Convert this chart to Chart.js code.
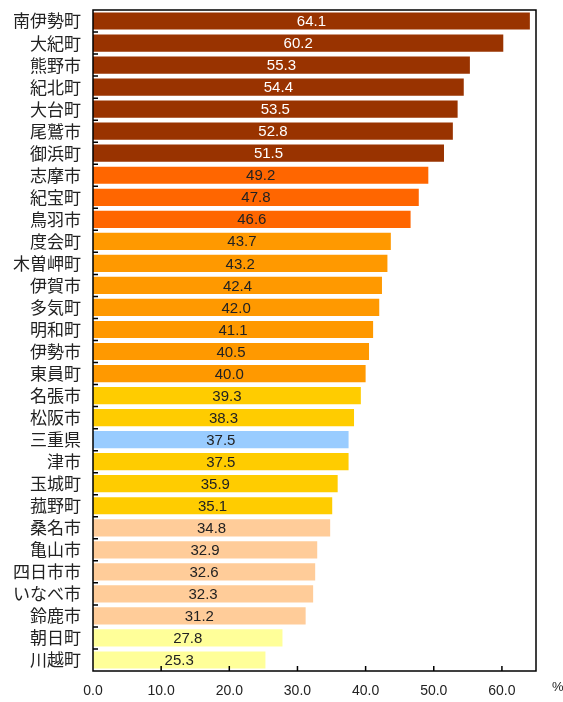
<!DOCTYPE html>
<html>
<head>
<meta charset="utf-8">
<script src="https://cdn.jsdelivr.net/npm/chart.js@4/dist/chart.umd.min.js"></script>
<style>
  html, body { margin: 0; padding: 0; background: #fff; }
  #wrap { position: relative; width: 563px; height: 702px; }
  #pct { position: absolute; left: 552px; top: 679px; font: 13px "Liberation Sans", Arial, sans-serif; color: #222; }
</style>
</head>
<body>
<div id="wrap">
  <canvas id="chart" width="563" height="702"></canvas>
  <div id="pct">%</div>
</div>
<script>
// 地域名と値（%）
const areas = ['南伊勢町','大紀町','熊野市','紀北町','大台町','尾鷲市','御浜町','志摩市','紀宝町','鳥羽市',
  '度会町','木曽岬町','伊賀市','多気町','明和町','伊勢市','東員町','名張市','松阪市','三重県',
  '津市','玉城町','菰野町','桑名市','亀山市','四日市市','いなべ市','鈴鹿市','朝日町','川越町'];
const values = [64.1,60.2,55.3,54.4,53.5,52.8,51.5,49.2,47.8,46.6,
  43.7,43.2,42.4,42.0,41.1,40.5,40.0,39.3,38.3,37.5,
  37.5,35.9,35.1,34.8,32.9,32.6,32.3,31.2,27.8,25.3];
// 色グループ（件数）
const groupSizes  = [7, 3, 7, 2, 1, 3, 5, 2];
const groupColors = ['#993300','#FF6600','#FF9900','#FFCC00','#99CCFF','#FFCC00','#FFCC99','#FFFF99'];
const groupText   = ['#ffffff','#222222','#222222','#222222','#222222','#222222','#222222','#222222'];
const xTicks = [0, 10, 20, 30, 40, 50, 60];

const barColors = [], labelColors = [];
groupSizes.forEach((n, g) => {
  for (let i = 0; i < n; i++) { barColors.push(groupColors[g]); labelColors.push(groupText[g]); }
});

const frame = {
  id: 'frame',
  afterDatasetsDraw(chart) {
    const { ctx, chartArea: a, scales } = chart;
    ctx.save();
    // 値ラベル
    ctx.font = '15px "Liberation Sans", Arial, sans-serif';
    ctx.textAlign = 'center';
    ctx.textBaseline = 'middle';
    chart.getDatasetMeta(0).data.forEach((bar, i) => {
      ctx.fillStyle = labelColors[i];
      ctx.fillText(values[i].toFixed(1), (bar.x + bar.base) / 2, bar.y + 1);
    });
    // 枠
    ctx.strokeStyle = '#000';
    ctx.lineWidth = 1.5;
    ctx.strokeRect(a.left, a.top, a.right - a.left, a.bottom - a.top);
    // 内向き目盛り
    ctx.beginPath();
    xTicks.slice(1).forEach(v => {
      const x = scales.x.getPixelForValue(v);
      ctx.moveTo(x, a.bottom); ctx.lineTo(x, a.bottom - 5);
    });
    const step = (a.bottom - a.top) / areas.length;
    for (let i = 1; i < areas.length; i++) {
      const y = a.top + step * i;
      ctx.moveTo(a.left, y); ctx.lineTo(a.left + 5, y);
    }
    ctx.stroke();
    ctx.restore();
  }
};

new Chart(document.getElementById('chart'), {
  type: 'bar',
  data: {
    labels: areas,
    datasets: [{ data: values, backgroundColor: barColors, barPercentage: 0.78, categoryPercentage: 1 }]
  },
  options: {
    indexAxis: 'y',
    responsive: false,
    animation: false,
    layout: { padding: { top: 10, right: 27, left: 0, bottom: 0 } },
    plugins: { legend: { display: false }, tooltip: { enabled: false } },
    scales: {
      x: {
        min: 0, max: 65,
        afterBuildTicks: s => { s.ticks = xTicks.map(v => ({ value: v })); },
        afterFit: s => { s.height = 31; s.paddingLeft = 0; s.paddingRight = 0; },
        grid: { display: false, drawTicks: false },
        border: { display: false },
        ticks: { padding: 12, color: '#222', font: { family: '"Liberation Sans", Arial, sans-serif', size: 14 },
                 callback: v => Number(v).toFixed(1), maxRotation: 0, autoSkip: false }
      },
      y: {
        afterFit: s => { s.width = 93; s.paddingTop = 0; s.paddingBottom = 0; },
        grid: { display: false, drawTicks: false },
        border: { display: false },
        ticks: { padding: 12, color: '#222', autoSkip: false,
                 font: { family: '"Noto Sans CJK JP", sans-serif', size: 17 } }
      }
    }
  },
  plugins: [frame]
});
</script>
</body>
</html>
